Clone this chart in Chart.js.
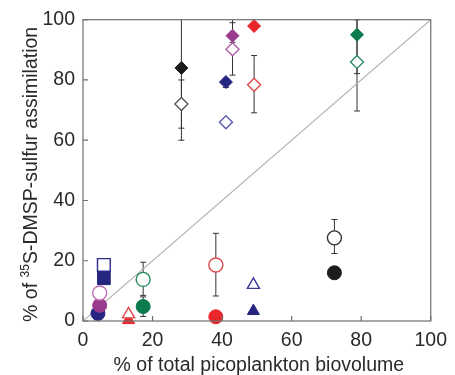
<!DOCTYPE html>
<html>
<head>
<meta charset="utf-8">
<script src="https://cdn.jsdelivr.net/npm/chart.js@4/dist/chart.umd.min.js"></script>
<style>
  html, body { margin: 0; padding: 0; background: #fff; }
  canvas { display: block; }
</style>
</head>
<body>
<canvas id="chart" width="455" height="375"></canvas>
<script>
// data (x = % biovolume, y = % assimilation)
const seriesNames = [
  "black diamond filled", "black diamond open",
  "navy diamond filled", "navy diamond open",
  "magenta diamond filled", "magenta diamond open",
  "red diamond filled", "red diamond open",
  "green diamond filled", "green diamond open",
  "black circle open", "black circle filled",
  "red circle open", "red circle filled",
  "navy triangle open", "navy triangle filled",
  "green circle open", "green circle filled",
  "red triangle open", "red triangle filled",
  "navy square open", "navy square filled",
  "magenta circle open", "magenta circle filled",
  "navy circle filled"
];
const xValues = [28.3, 28.3, 41.1, 41.1, 43, 43, 49.2, 49.2, 78.8, 78.8,
  72.3, 72.3, 38.2, 38.2, 49, 49, 17.3, 17.3, 13.1, 13.1, 6.0, 6.0, 4.8, 4.8, 4.3];
const yValues = [84, 72, 79.3, 66, 94.7, 90.2, 97.9, 78.4, 95, 86,
  27.6, 16, 18.6, 1.4, 12, 3.3, 13.8, 4.8, 2.2, 0.3, 18.6, 14.2, 9.3, 5.2, 2.5];
const errLow = [64, 60, 77.5, null, 92.5, 81.6, null, 69.1, 82.1, 69.7,
  22.4, 15, 8.3, null, null, null, 8.5, 1.5, null, null, null, null, null, null, null];
const errHigh = [106, 80, 80.5, null, 106, 99, null, 88.1, 106, 100,
  33.7, 18, 29.1, null, null, null, 19.5, 8, null, null, null, null, null, null, null];

const axisTicks = [0, 20, 40, 60, 80, 100];
const oneToOne = [{ x: 0, y: 0 }, { x: 100, y: 100 }];

// styles
const shapes = ["rectRot", "rectRot", "rectRot", "rectRot", "rectRot", "rectRot", "rectRot", "rectRot", "rectRot", "rectRot",
  "circle", "circle", "circle", "circle", "triangle", "triangle", "circle", "circle", "triangle", "triangle",
  "rect", "rect", "circle", "circle", "circle"];
const colors = ["#1c1c1c", "#555555", "#262680", "#5c5cb0", "#9a3a8c", "#b060a6", "#e8262b", "#e0484c", "#0b7a4c", "#2e8a64",
  "#333333", "#1c1c1c", "#e0484c", "#e8262b", "#3a3a95", "#262680", "#1d8a5a", "#0b7a4c", "#e0484c", "#e8262b",
  "#2a2a8a", "#262680", "#c070b6", "#9a3a8c", "#262680"];
const filled = [true, false, true, false, true, false, true, false, true, false,
  false, true, false, true, false, true, false, true, false, true,
  false, true, false, true, true];
const radii = { rectRot: 6.5, circle: 7, triangle: 7, rect: 9 };

const FONT = "'Liberation Sans', Arial, Helvetica, sans-serif";
const AXIS_COLOR = "#6e6e6e";
const TEXT_SIZE = 19.5;

const datasets = seriesNames.map((name, i) => ({
  label: name,
  data: [{ x: xValues[i], y: yValues[i] }],
  pointStyle: shapes[i],
  pointRadius: radii[shapes[i]],
  pointBorderWidth: filled[i] ? 1 : 1.4,
  pointBorderColor: colors[i],
  pointBackgroundColor: filled[i] ? colors[i] : "#ffffff",
  showLine: false,
  clip: false,
  order: 0
}));

datasets.push({
  label: "1:1",
  type: "line",
  data: oneToOne,
  borderColor: "#b4b4b4",
  borderWidth: 1.2,
  pointRadius: 0,
  order: 10
});

// error bars, drawn under the markers
const errorBars = {
  id: "errorBars",
  beforeDatasetsDraw(chart) {
    const { ctx, chartArea, scales } = chart;
    ctx.save();
    ctx.strokeStyle = "#333";
    ctx.lineWidth = 1;
    seriesNames.forEach((n, i) => {
      if (errLow[i] == null) return;
      const px = scales.x.getPixelForValue(xValues[i]);
      const yLo = scales.y.getPixelForValue(errLow[i]);
      const yHi = Math.max(chartArea.top, scales.y.getPixelForValue(errHigh[i]));
      ctx.beginPath();
      ctx.moveTo(px, yLo);
      ctx.lineTo(px, yHi);
      ctx.moveTo(px - 3, yLo);
      ctx.lineTo(px + 3, yLo);
      if (errHigh[i] <= 100) {
        ctx.moveTo(px - 3, yHi);
        ctx.lineTo(px + 3, yHi);
      }
      ctx.stroke();
    });
    ctx.restore();
  }
};

// frame, inward ticks and axis titles
const frame = {
  id: "frame",
  afterDraw(chart) {
    const { ctx, chartArea: a, scales } = chart;
    ctx.save();
    ctx.strokeStyle = AXIS_COLOR;
    ctx.lineWidth = 1.2;
    ctx.strokeRect(a.left, a.top, a.right - a.left, a.bottom - a.top);
    ctx.beginPath();
    axisTicks.forEach((t) => {
      const xp = scales.x.getPixelForValue(t);
      ctx.moveTo(xp, a.bottom);
      ctx.lineTo(xp, a.bottom - 5);
      const yp = scales.y.getPixelForValue(t);
      ctx.moveTo(a.left, yp);
      ctx.lineTo(a.left + 5, yp);
    });
    ctx.stroke();

    ctx.fillStyle = "#2a2a2a";
    ctx.textBaseline = "alphabetic";
    // x title
    ctx.font = TEXT_SIZE + "px " + FONT;
    ctx.textAlign = "center";
    ctx.fillText("% of total picoplankton biovolume", (a.left + a.right) / 2 + 2, 371);

    // y title with superscript 35
    const parts = [["% of ", TEXT_SIZE, 0], ["35", 12, -8], ["S-DMSP-sulfur assimilation", TEXT_SIZE, 0]];
    let total = 0;
    parts.forEach((p) => { ctx.font = p[1] + "px " + FONT; total += ctx.measureText(p[0]).width; });
    ctx.translate(37, (a.top + a.bottom) / 2 + 4);
    ctx.rotate(-Math.PI / 2);
    ctx.textAlign = "left";
    let cx = -total / 2;
    parts.forEach((p) => {
      ctx.font = p[1] + "px " + FONT;
      ctx.fillText(p[0], cx, p[2]);
      cx += ctx.measureText(p[0]).width;
    });
    ctx.restore();
  }
};

new Chart(document.getElementById("chart"), {
  type: "scatter",
  data: { datasets: datasets },
  options: {
    responsive: false,
    devicePixelRatio: 1,
    animation: false,
    layout: { padding: { top: 16, right: 18, left: 0, bottom: 0 } },
    plugins: { legend: { display: false }, tooltip: { enabled: false } },
    scales: {
      x: {
        type: "linear",
        min: 0,
        max: 100,
        afterBuildTicks: (s) => { s.ticks = axisTicks.map((v) => ({ value: v })); },
        afterFit: (s) => { s.height = 54; },
        grid: { display: false, drawTicks: false },
        border: { display: false },
        ticks: { padding: 8, color: "#2a2a2a", font: { family: FONT, size: TEXT_SIZE } }
      },
      y: {
        type: "linear",
        min: 0,
        max: 100,
        afterBuildTicks: (s) => { s.ticks = axisTicks.map((v) => ({ value: v })); },
        afterFit: (s) => { s.width = 83; },
        grid: { display: false, drawTicks: false },
        border: { display: false },
        ticks: { padding: 8, color: "#2a2a2a", font: { family: FONT, size: TEXT_SIZE } }
      }
    }
  },
  plugins: [errorBars, frame]
});
</script>
</body>
</html>
